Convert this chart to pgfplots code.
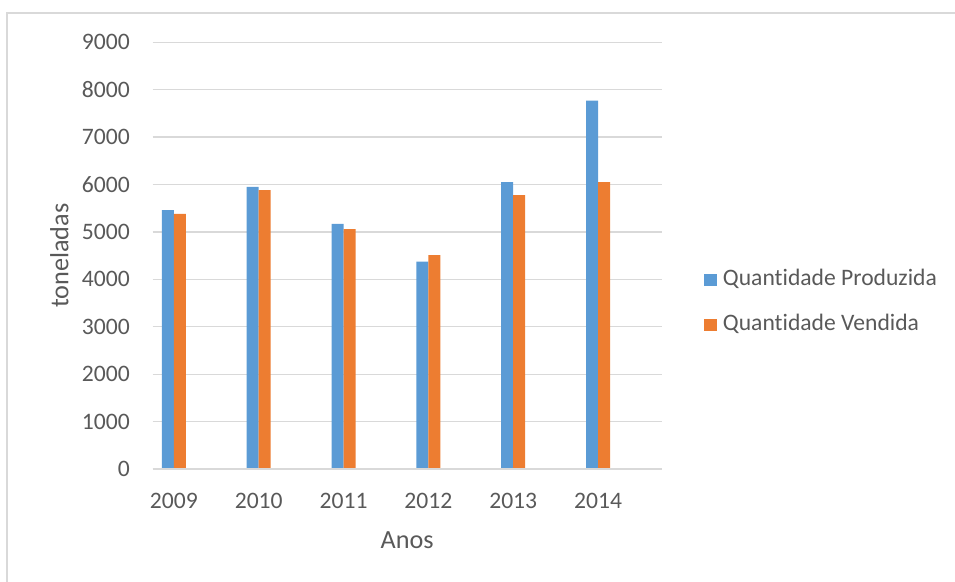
\documentclass[border=0pt]{standalone}
\usepackage{pgfplots}
\pgfplotsset{compat=1.18}
\usepackage{fontspec}
\setmainfont{Carlito}[Ligatures={NoCommon}]

\definecolor{prodblue}{HTML}{5B9BD5}
\definecolor{vendorange}{HTML}{ED7D31}
\definecolor{gridgray}{HTML}{D9D9D9}
\definecolor{textgray}{HTML}{595959}

\newcommand{\tickfont}{\fontsize{17.7pt}{21pt}\selectfont}
\newcommand{\titlefont}{\fontsize{19.65pt}{23pt}\selectfont}

\begin{document}
\begin{tikzpicture}
\useasboundingbox (0,0) rectangle (716.25pt,435.75pt);
% chart frame (left and top edges)
\draw[gridgray, line width=1.3pt] (5.5pt,-5pt) -- (5.5pt,426.2pt) -- (730pt,426.2pt);

\begin{axis}[
  at={(114.5pt,84pt)}, anchor=south west,
  scale only axis, width=381.75pt, height=320pt,
  ybar,
  xmin=-0.25, xmax=5.75,
  ymin=0, ymax=9000,
  ytick={0,1000,...,9000},
  xtick={0,1,2,3,4,5},
  xticklabels={2009,2010,2011,2012,2013,2014},
  axis line style={draw=none},
  ymajorgrids,
  grid style={gridgray, line width=1pt},
  major tick length=0pt,
  tick style={draw=none},
  /pgf/number format/assume math mode=true,
  /pgf/number format/1000 sep={},
  tick label style={font=\tickfont, text=textgray},
  yticklabel style={anchor=east, inner sep=0pt, xshift=-17pt},
  xticklabel style={anchor=north, inner sep=0pt, yshift=-18pt},
  bar width=9pt,
  xlabel={Anos},
  xlabel style={font=\titlefont, text=textgray, inner sep=0pt,
    at={(axis description cs:0.5,-0.1664)}, anchor=center},
  ylabel={toneladas},
  ylabel style={font=\titlefont, text=textgray, inner sep=0pt,
    at={(axis description cs:-0.1831,0.5)}, anchor=center},
  legend style={
    at={(axis description cs:1.0831,0.391)}, anchor=west,
    draw=none, fill=none, inner sep=0pt, outer sep=0pt,
    font=\tickfont, text=textgray,
    row sep=18.5pt, column sep=4.5pt,
    nodes={inner sep=0pt, text height=12pt, text depth=3pt},
  },
  legend cell align=left,
  legend image code/.code={\fill[#1] (0pt,-4.5pt) rectangle (9.75pt,4.3pt);},
]
\addplot+[fill=prodblue, draw=none, bar shift=-4.5pt] coordinates {
  (0,5460) (1,5950) (2,5170) (3,4375) (4,6050) (5,7770)
};
\addlegendentry{Quantidade Produzida}
\addplot+[fill=vendorange, draw=none, bar shift=4.5pt] coordinates {
  (0,5380) (1,5880) (2,5060) (3,4510) (4,5775) (5,6050)
};
\addlegendentry{Quantidade Vendida}
% zero line
\draw[gridgray, line width=1pt] (axis cs:-0.25,0) -- (axis cs:5.75,0);
\end{axis}
\end{tikzpicture}
\end{document}
